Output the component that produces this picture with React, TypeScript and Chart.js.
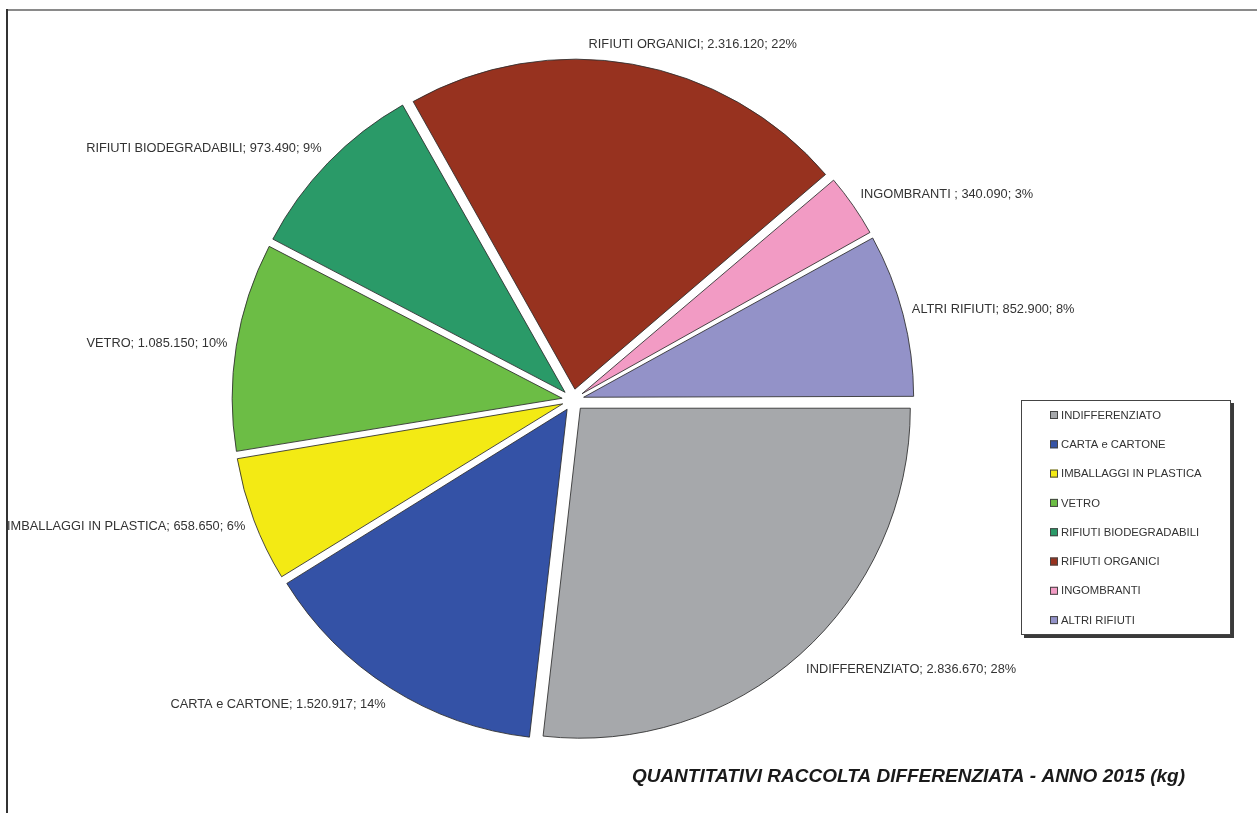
import React, { useEffect, useRef } from "react";
import { Chart, registerables } from "chart.js";

Chart.register(...registerables);

const categories = [
  "INDIFFERENZIATO",
  "CARTA e CARTONE",
  "IMBALLAGGI IN PLASTICA",
  "VETRO",
  "RIFIUTI BIODEGRADABILI",
  "RIFIUTI ORGANICI",
  "INGOMBRANTI",
  "ALTRI RIFIUTI",
];
const labelNames = [
  "INDIFFERENZIATO",
  "CARTA e CARTONE",
  "IMBALLAGGI IN PLASTICA",
  "VETRO",
  "RIFIUTI BIODEGRADABILI",
  "RIFIUTI ORGANICI",
  "INGOMBRANTI ",
  "ALTRI RIFIUTI",
];
const values = [2836670, 1520917, 658650, 1085150, 973490, 2316120, 340090, 852900];
const percentLabels = ["28%", "14%", "6%", "10%", "9%", "22%", "3%", "8%"];
const colors = ["#A6A8AB", "#3452A6", "#F3EA14", "#6CBD45", "#2A9A68", "#97321F", "#F29BC4", "#9392C8"];
const titleText = "QUANTITATIVI RACCOLTA DIFFERENZIATA - ANNO 2015 (kg)";

const FONT = '"Liberation Sans", Arial, sans-serif';
const EXPLODE = 11; // px each slice is pulled out
const PIE_RADIUS = 330;

function fmt(v: number): string {
  return String(v).replace(/\B(?=(\d{3})+(?!\d))/g, ".");
}

// Chart.js enlarges small offset arcs; undo that so every slice is a pure translation
const explodePlugin = {
  id: "explodeFix",
  afterDatasetUpdate(chart: any) {
    const meta = chart.getDatasetMeta(0);
    meta.data.forEach((arc: any) => {
      const circ = arc.circumference;
      const fix = 1 - Math.sin(Math.min(Math.PI, circ || 0));
      arc.outerRadius = PIE_RADIUS - EXPLODE * fix;
    });
  },
};

const decorPlugin = {
  id: "decor",
  afterDraw(chart: any) {
    const ctx: CanvasRenderingContext2D = chart.ctx;
    const W = chart.width;
    const H = chart.height;
    ctx.save();

    // frame lines
    ctx.fillStyle = "#8a8a8a";
    ctx.fillRect(6, 9, W - 6, 2);
    ctx.fillStyle = "#333333";
    ctx.fillRect(6, 9, 2, H - 9);

    // slice labels
    const meta = chart.getDatasetMeta(0);
    ctx.font = `12.8px ${FONT}`;
    ctx.fillStyle = "#333333";
    ctx.textBaseline = "middle";
    ctx.textAlign = "left";
    meta.data.forEach((arc: any, i: number) => {
      const mid = (arc.startAngle + arc.endAngle) / 2;
      const Ry = PIE_RADIUS + 31;
      const Rx = PIE_RADIUS + 20;
      const c = Math.cos(mid);
      const s = Math.sin(mid);
      const px = arc.x + Rx * c;
      const py = arc.y + Ry * s;
      const txt = `${labelNames[i]}; ${fmt(values[i])}; ${percentLabels[i]}`;
      const w = ctx.measureText(txt).width;
      let left: number;
      if (Math.abs(c) < 0.3) {
        left = arc.x + Ry * c - w * ((1 - c) / 2) * 0.55;
      } else if (c > 0) {
        left = px;
      } else {
        left = px - w;
      }
      ctx.fillText(txt, left, py);
    });

    // legend box
    const bx = 1021, by = 400, bw = 210, bh = 235;
    ctx.fillStyle = "#3a3a3a";
    ctx.fillRect(bx + 3, by + 3, bw, bh);
    ctx.fillStyle = "#ffffff";
    ctx.fillRect(bx, by, bw, bh);
    ctx.strokeStyle = "#444444";
    ctx.lineWidth = 1;
    ctx.strokeRect(bx + 0.5, by + 0.5, bw - 1, bh - 1);
    ctx.font = `11.3px ${FONT}`;
    ctx.textAlign = "left";
    ctx.textBaseline = "middle";
    categories.forEach((name, i) => {
      const y = 415 + i * 29.3;
      ctx.fillStyle = colors[i];
      ctx.fillRect(1050, y - 4, 8, 8);
      ctx.strokeStyle = "#444444";
      ctx.strokeRect(1050.5, y - 3.5, 7, 7);
      ctx.fillStyle = "#333333";
      ctx.fillText(name, 1061, y + 0.5);
    });

    // title
    ctx.font = `italic bold 19px ${FONT}`;
    ctx.fillStyle = "#1a1a1a";
    ctx.textAlign = "right";
    ctx.textBaseline = "middle";
    ctx.fillText(titleText, 1185, 777);

    ctx.restore();
  },
};

export default function App() {
  const ref = useRef<HTMLCanvasElement | null>(null);
  useEffect(() => {
    if (!ref.current) return;
    const chart = new Chart(ref.current, {
      type: "pie",
      data: {
        labels: categories,
        datasets: [
          {
            data: values,
            backgroundColor: colors,
            borderColor: "rgba(45,45,45,0.85)",
            borderWidth: 1,
            offset: EXPLODE * 4,
            radius: PIE_RADIUS,
          } as any,
        ],
      },
      options: {
        responsive: false,
        animation: false,
        events: [],
        rotation: 90,
        layout: { padding: { left: 233, right: 344, top: 60, bottom: 73 } },
        plugins: {
          legend: { display: false },
          tooltip: { enabled: false },
          title: { display: false },
        },
      } as any,
      plugins: [explodePlugin, decorPlugin],
    });
    return () => chart.destroy();
  }, []);
  return (
    <div style={{ position: "absolute", left: 0, top: 0, width: 1257, height: 813, background: "#fff" }}>
      <canvas ref={ref} width={1257} height={813} style={{ display: "block" }} />
    </div>
  );
}
